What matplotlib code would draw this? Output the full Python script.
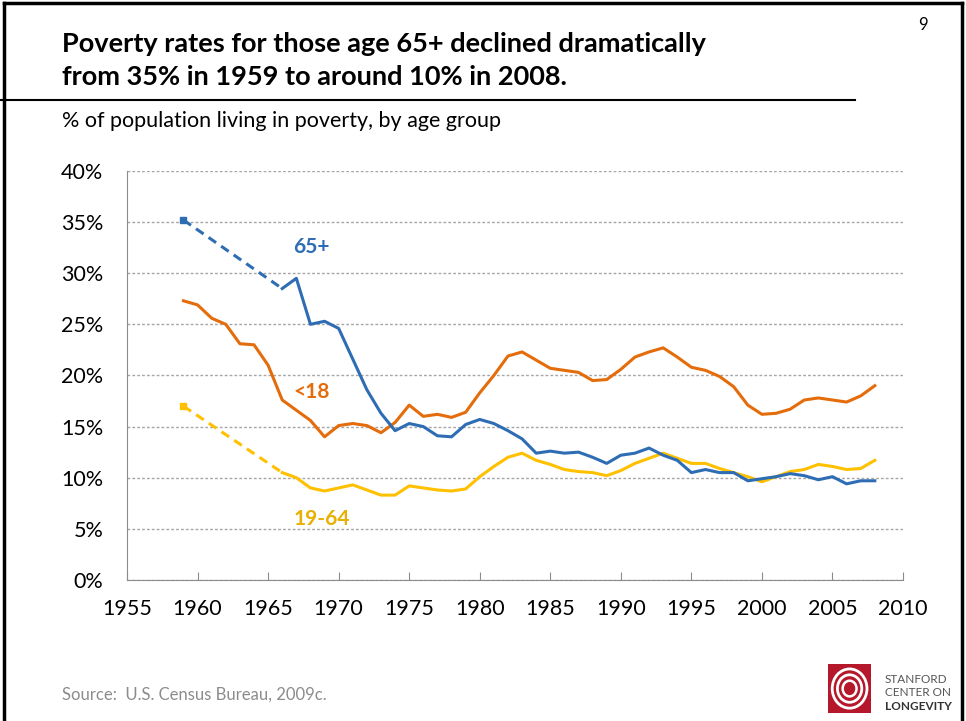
import matplotlib
matplotlib.use("Agg")
import matplotlib.pyplot as plt
from matplotlib.patches import Rectangle, Circle
from matplotlib.lines import Line2D

# Poverty rates by age group (U.S. Census Bureau)
years = list(range(1966, 2009))
age65 = [28.5, 29.5, 25.0, 25.3, 24.6, 21.6, 18.6, 16.3, 14.6, 15.3, 15.0, 14.1,
         14.0, 15.2, 15.7, 15.3, 14.6, 13.8, 12.4, 12.6, 12.4, 12.5, 12.0, 11.4,
         12.2, 12.4, 12.9, 12.2, 11.7, 10.5, 10.8, 10.5, 10.5, 9.7, 9.9, 10.1,
         10.4, 10.2, 9.8, 10.1, 9.4, 9.7, 9.7]
age19_64 = [10.5, 10.0, 9.0, 8.7, 9.0, 9.3, 8.8, 8.3, 8.3, 9.2, 9.0, 8.8,
            8.7, 8.9, 10.1, 11.1, 12.0, 12.4, 11.7, 11.3, 10.8, 10.6, 10.5, 10.2,
            10.7, 11.4, 11.9, 12.4, 11.9, 11.4, 11.4, 10.9, 10.5, 10.1, 9.6, 10.1,
            10.6, 10.8, 11.3, 11.1, 10.8, 10.9, 11.7]
years_u18 = list(range(1959, 2009))
under18 = [27.3, 26.9, 25.6, 25.0, 23.1, 23.0, 21.0, 17.6, 16.6, 15.6, 14.0, 15.1,
           15.3, 15.1, 14.4, 15.4, 17.1, 16.0, 16.2, 15.9, 16.4, 18.3, 20.0, 21.9,
           22.3, 21.5, 20.7, 20.5, 20.3, 19.5, 19.6, 20.6, 21.8, 22.3, 22.7, 21.8,
           20.8, 20.5, 19.9, 18.9, 17.1, 16.2, 16.3, 16.7, 17.6, 17.8, 17.6, 17.4,
           18.0, 19.0]
# 1959 values (gap in the series until 1966, drawn dashed)
start_year = 1959
age65_1959 = 35.2
age19_64_1959 = 17.0

blue = "#2E6DB4"
orange = "#E46C0A"
yellow = "#FFC000"
font = "Lato"

fig = plt.figure(figsize=(9.66, 7.21), dpi=100)

# slide frame
fig.add_artist(Line2D([0.004, 0.004], [0, 0.996], color="black", lw=2.5))
fig.add_artist(Line2D([0.004, 0.996], [0.996, 0.996], color="black", lw=2.5))
fig.add_artist(Line2D([0.996, 0.996], [0, 0.996], color="black", lw=2.5))
fig.add_artist(Line2D([0.0, 0.885], [0.861, 0.861], color="black", lw=1.5))

fig.text(0.064, 0.939, "Poverty rates for those age 65+ declined dramatically",
         fontsize=19.5, fontweight="bold", family=font, va="center")
fig.text(0.064, 0.893, "from 35% in 1959 to around 10% in 2008.",
         fontsize=19.5, fontweight="bold", family=font, va="center")
fig.text(0.955, 0.965, "9", fontsize=12, family=font, va="center", ha="center")
fig.text(0.064, 0.832, "% of population living in poverty, by age group",
         fontsize=15.5, family=font, va="center")
fig.text(0.064, 0.037, "Source:  U.S. Census Bureau, 2009c.",
         fontsize=12, family=font, color="#8C8C8C", va="center")

ax = fig.add_axes([0.1315, 0.1956, 0.8033, 0.5673])

ax.plot([start_year, years[0]], [age65_1959, age65[0]], color=blue, lw=2.2,
        ls=(0, (3, 2)))
ax.plot([start_year, years[0]], [age19_64_1959, age19_64[0]], color=yellow, lw=2.2,
        ls=(0, (3, 2)))
ax.plot([start_year], [age65_1959], marker="s", ms=5, color=blue)
ax.plot([start_year], [age19_64_1959], marker="s", ms=5, color=yellow)
ax.plot(years_u18, under18, color=orange, lw=2.2)
ax.plot(years, age19_64, color=yellow, lw=2.2)
ax.plot(years, age65, color=blue, lw=2.2)

ax.text(1968.1, 32.6, "65+", color=blue, fontsize=15, fontweight="bold",
        family=font, ha="center", va="center")
ax.text(1968.1, 18.4, "<18", color=orange, fontsize=15, fontweight="bold",
        family=font, ha="center", va="center")
ax.text(1968.8, 6.0, "19-64", color="#E8B000", fontsize=15, fontweight="bold",
        family=font, ha="center", va="center")

ax.set_xlim(1955, 2010)
ax.set_ylim(0, 40)
ax.set_xticks(range(1955, 2011, 5))
ax.set_yticks(range(0, 41, 5))
ax.set_yticklabels([f"{v}%" for v in range(0, 41, 5)])
ax.tick_params(axis="x", direction="in", length=6, color="#8C8C8C",
               labelsize=15.5, pad=14)
ax.tick_params(axis="y", length=0, labelsize=15.5, pad=17)
for lab in ax.get_xticklabels() + ax.get_yticklabels():
    lab.set_family(font)
ax.grid(axis="y", color="#A6A6A6", ls=(0, (2, 1.5)), lw=1)
ax.set_axisbelow(True)
for s in ["top", "right"]:
    ax.spines[s].set_visible(False)
for s in ["left", "bottom"]:
    ax.spines[s].set_color("#8C8C8C")

# logo
lax = fig.add_axes([0.857, 0.011, 0.045, 0.068])
lax.set_xlim(0, 1)
lax.set_ylim(0, 1)
lax.axis("off")
lax.add_patch(Rectangle((0, 0), 1, 1, color="#B5182B"))
for r, w in [(0.40, 2.0), (0.28, 2.0), (0.16, 1.8)]:
    lax.add_patch(Circle((0.5, 0.5), r, fill=False, ec="white", lw=w))
fig.text(0.916, 0.058, "STANFORD", fontsize=8.5, family=font, color="#555555", va="center")
fig.text(0.916, 0.039, "CENTER ON", fontsize=8.5, family=font, color="#555555", va="center")
fig.text(0.916, 0.020, "LONGEVITY", fontsize=8.5, family=font, color="#333333",
         fontweight="bold", va="center")

fig.savefig("out.png", dpi=100)
